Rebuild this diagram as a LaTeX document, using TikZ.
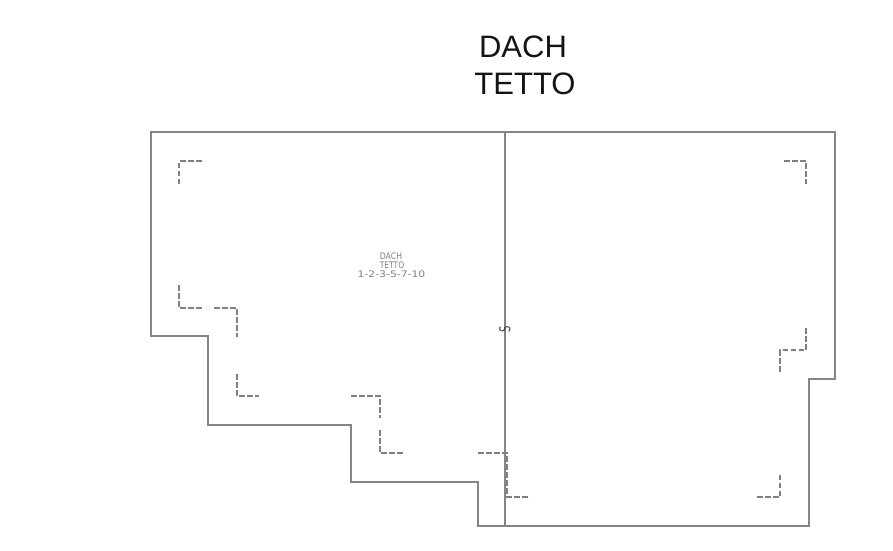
\documentclass[tikz,border=0pt]{standalone}
\usepackage{fontspec}
\setmainfont{Liberation Sans}
\newfontfamily\cadfont{DejaVu Sans}[Scale=1]
\begin{document}
\begin{tikzpicture}[x=1pt,y=-1pt,
  wall/.style={draw=black!48,line width=1.15pt,line join=miter},
  hidden/.style={draw=black!50,line width=1.05pt,dash pattern=on 5.5pt off 2.5pt},
  title/.style={inner sep=0pt,font=\fontsize{31}{31}\selectfont,text=black!92},
  cadtext/.style={inner sep=0pt,text=black!50,font=\cadfont\fontsize{9}{9}\selectfont}]
\useasboundingbox[fill=white] (0,0) rectangle (893,550);
\draw[wall] (151,132) -- (835,132) -- (835,379) -- (809,379) -- (809,526) -- (478,526)
  -- (478,482) -- (351,482) -- (351,425) -- (208,425) -- (208,336) -- (151,336) -- cycle;
\draw[wall] (505,132) -- (505,526);
\draw[hidden] (179,184) -- (179,161) -- (202,161);
\draw[hidden] (179,285) -- (179,308) -- (203,308);
\draw[hidden] (214,308) -- (237,308) -- (237,337);
\draw[hidden] (237,374) -- (237,396) -- (259,396);
\draw[hidden] (351,396) -- (380,396) -- (380,418);
\draw[hidden] (380,430) -- (380,453) -- (403,453);
\draw[hidden] (478,453) -- (507,453) -- (507,497) -- (530,497);
\draw[hidden] (784,161) -- (806,161) -- (806,184);
\draw[hidden] (806,328) -- (806,350) -- (780,350) -- (780,373);
\draw[hidden] (757,497) -- (780,497) -- (780,475);
\node[title] (titleA) at (523,47) {DACH};
\node[title] (titleB) at (525,84) {TETTO};
\node[cadtext,xscale=0.86] (lblA) at (391,256) {DACH};
\node[cadtext,xscale=0.84] (lblB) at (392,265) {TETTO};
\node[cadtext,xscale=1.2] (lblC) at (391.5,274.5) {1-2-3-5-7-10};
\node[cadtext,rotate=90,text=black!75,font=\cadfont\fontsize{10}{10}\selectfont,xscale=1,yscale=1.5] (lblS) at (505,329) {S};
\end{tikzpicture}
\end{document}
